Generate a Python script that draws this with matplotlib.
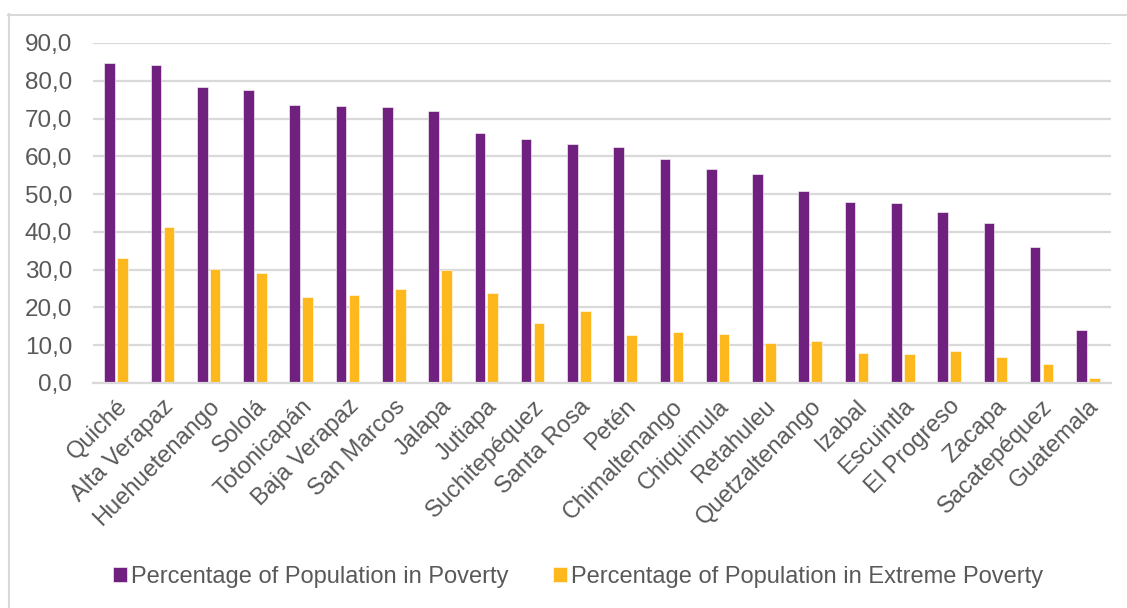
import matplotlib
matplotlib.use("Agg")
import matplotlib.pyplot as plt
from matplotlib.lines import Line2D
import numpy as np

plt.rcParams['font.family'] = ['Liberation Sans', 'DejaVu Sans']

departments = ["Quiché", "Alta Verapaz", "Huehuetenango", "Sololá", "Totonicapán",
               "Baja Verapaz", "San Marcos", "Jalapa", "Jutiapa", "Suchitepéquez",
               "Santa Rosa", "Petén", "Chimaltenango", "Chiquimula", "Retahuleu",
               "Quetzaltenango", "Izabal", "Escuintla", "El Progreso", "Zacapa",
               "Sacatepéquez", "Guatemala"]
poverty = [84.6, 84.1, 78.3, 77.5, 73.7, 73.2, 73.0, 72.1, 66.1, 64.7, 63.2,
           62.6, 59.4, 56.6, 55.3, 50.8, 47.9, 47.6, 45.3, 42.3, 36.1, 14.0]
extreme_poverty = [33.2, 41.2, 30.3, 29.1, 22.7, 23.4, 24.9, 29.8, 23.9, 15.8, 19.1,
                   12.8, 13.4, 13.1, 10.7, 11.1, 8.0, 7.7, 8.5, 6.9, 5.1, 1.4]
yticks = [0, 10, 20, 30, 40, 50, 60, 70, 80, 90]

PURPLE = "#70207e"
GOLD = "#fdb81e"
GRID = "#d9d9d9"
TEXT = "#595959"

W, H = 1127, 608
fig = plt.figure(figsize=(W / 100, H / 100), dpi=100)
ax = fig.add_axes([93 / W, 1 - 383 / H, (1111 - 93) / W, (383 - 43) / H])

x = np.arange(len(departments))
bw = 0.23
ax.bar(x - 0.14, poverty, width=bw, color=PURPLE, edgecolor="white", linewidth=0.4,
       label="Percentage of Population in Poverty", zorder=3)
ax.bar(x + 0.14, extreme_poverty, width=bw, color=GOLD, edgecolor="white", linewidth=0.4,
       label="Percentage of Population in Extreme Poverty", zorder=3)

ax.set_xlim(-0.5, len(departments) - 0.5)
ax.set_ylim(0, 90)
ax.set_yticks(yticks)
ax.set_yticklabels([f"{v:.1f}".replace(".", ",") for v in yticks])
ax.yaxis.grid(True, color=GRID, linewidth=1.6, zorder=0)
ax.set_axisbelow(True)

for s in ("top", "right", "left"):
    ax.spines[s].set_visible(False)
ax.spines["bottom"].set_color(GRID)
ax.spines["bottom"].set_linewidth(1.6)
ax.spines["bottom"].set_zorder(4)

ax.set_xticks(x)
ax.set_xticklabels(departments, rotation=45, ha="right", rotation_mode="anchor")
ax.tick_params(axis="x", length=0, pad=9, labelsize=17, labelcolor=TEXT)
ax.tick_params(axis="y", length=0, pad=15, labelsize=17.5, labelcolor=TEXT)

leg = fig.legend(loc="center", bbox_to_anchor=(578 / W, 1 - 577 / H), ncol=2,
                 frameon=False, fontsize=17, labelcolor=TEXT, handlelength=0.6,
                 handleheight=0.6, handletextpad=0.15, columnspacing=1.9)

# chart frame
fig.add_artist(Line2D([8.5 / W, 8.5 / W], [0, 1 - 14 / H], color=GRID, linewidth=1.5,
                      transform=fig.transFigure))
fig.add_artist(Line2D([8 / W, 1], [1 - 14.5 / H, 1 - 14.5 / H], color=GRID, linewidth=1.5,
                      transform=fig.transFigure))

fig.savefig("out.png", dpi=100)
